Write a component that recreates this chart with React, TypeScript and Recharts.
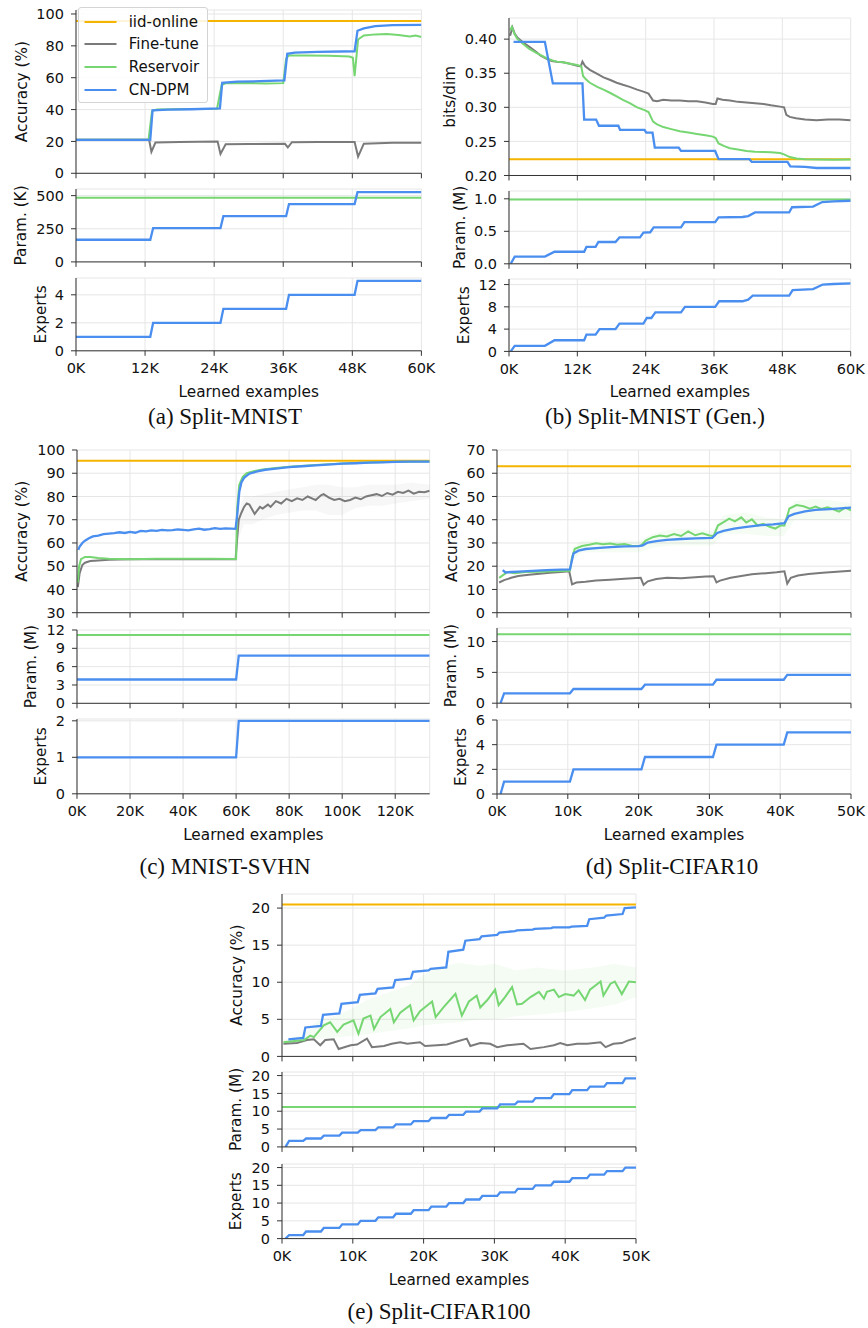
import React from "react"
import { Area, CartesianGrid, ComposedChart, Legend, Line, XAxis, YAxis } from "recharts"

type P = [number, number]
type R = [number, number, number]

const FONT = '"DejaVu Sans", Verdana, sans-serif'
const C_IID = "#f5b400"
const C_FT = "#7a7a7a"
const C_RES = "#76d672"
const C_DPM = "#4a8eef"

const LEGEND_NAMES = ["iid-online", "Fine-tune", "Reservoir", "CN-DPM"]
const LEGEND_COLORS = [C_IID, C_FT, C_RES, C_DPM]

// ---- (a) Split-MNIST ----
const A_X_TICKS = [0, 12, 24, 36, 48, 60]
const A_ACC_IID: P[] = [[0, 95.6], [60, 95.6]]
const A_ACC_FT: P[] = [[0, 21], [12.7, 21], [13.1, 13.5], [13.8, 19.3], [18, 19.6], [24.6, 20], [25.1, 12.2], [26, 18.2], [30, 18.4], [36.3, 18.5], [36.8, 16.2], [37.5, 19.5], [42, 19.6], [48.4, 19.7], [49.0, 10.5], [50, 18.6], [55, 19.1], [60, 19.2]]
const A_ACC_RES: P[] = [[0, 21], [12.6, 21], [13.2, 39], [14, 40], [20, 40.3], [24.5, 40.5], [25.3, 55.5], [26, 56.5], [30, 56.7], [33, 56.3], [36, 56.6], [36.5, 72], [37, 74], [40, 74], [44, 73.8], [47.5, 73.3], [48.1, 72.5], [48.4, 61], [49, 84], [50, 86.5], [52, 87.2], [54, 87.4], [56, 86.8], [58, 85.8], [59, 86.5], [60, 85.5]]
const A_ACC_DPM: P[] = [[0, 21], [12.9, 21], [13.3, 39.5], [16, 40], [20, 40.2], [25, 40.7], [25.4, 56.8], [28, 57.5], [32, 57.8], [36.2, 58.3], [36.7, 75], [38, 75.8], [42, 76.2], [48.4, 76.6], [48.9, 89.5], [50, 91], [52, 92.4], [55, 93], [60, 93.2]]
const A_PAR_RES: P[] = [[0, 484], [60, 484]]
const A_PAR_DPM: P[] = [[0, 167], [12.9, 167], [13.4, 255], [25.1, 255], [25.6, 345], [36.5, 345], [37, 436], [48.4, 436], [48.9, 526], [60, 526]]
const A_EXP_DPM: P[] = [[0, 1], [12.9, 1], [13.4, 2], [25.1, 2], [25.6, 3], [36.5, 3], [37, 4], [48.4, 4], [48.9, 5], [60, 5]]

// ---- (b) Split-MNIST (Gen.) ----
const B_X_TICKS = [0, 12, 24, 36, 48, 60]
const B_ACC_IID: P[] = [[0, 0.224], [60, 0.224]]
const B_ACC_FT: P[] = [[0.2, 0.405], [0.6, 0.417], [1.0, 0.408], [1.5, 0.402], [2.5, 0.395], [3.7, 0.388], [4.8, 0.381], [5.5, 0.376], [6.6, 0.371], [7.5, 0.368], [8.4, 0.367], [9.5, 0.366], [10.7, 0.364], [12.0, 0.361], [12.6, 0.36], [12.9, 0.367], [13.4, 0.36], [14.2, 0.355], [15.5, 0.349], [16.6, 0.344], [17.8, 0.34], [18.9, 0.336], [20, 0.333], [21.2, 0.33], [22.5, 0.326], [23.6, 0.323], [24.5, 0.32], [25.3, 0.31], [26, 0.309], [27.1, 0.311], [28.5, 0.31], [30, 0.31], [31.5, 0.309], [33, 0.309], [34.5, 0.307], [35.8, 0.305], [36.3, 0.305], [36.6, 0.313], [37.5, 0.311], [38.8, 0.31], [40.2, 0.308], [41.7, 0.307], [43.2, 0.306], [44.7, 0.305], [46, 0.303], [47.6, 0.301], [48.3, 0.3], [48.7, 0.289], [49.3, 0.286], [50.4, 0.284], [52, 0.282], [54, 0.281], [56, 0.282], [58, 0.282], [60, 0.281]]
const B_ACC_RES: P[] = [[0.2, 0.413], [0.5, 0.418], [1.0, 0.407], [1.5, 0.4], [2.5, 0.393], [3.5, 0.386], [4.8, 0.38], [5.5, 0.377], [6.6, 0.372], [7.5, 0.369], [8.4, 0.367], [9.5, 0.366], [10.7, 0.364], [12.0, 0.362], [12.7, 0.36], [13.0, 0.346], [13.5, 0.341], [14.2, 0.336], [15.5, 0.33], [16.6, 0.326], [17.8, 0.321], [18.9, 0.316], [20, 0.311], [21.2, 0.306], [22.5, 0.3], [23.8, 0.296], [24.5, 0.293], [25.3, 0.279], [26, 0.275], [27.1, 0.271], [28.5, 0.268], [30, 0.265], [31.5, 0.263], [33, 0.261], [34.5, 0.259], [35.8, 0.257], [36.3, 0.255], [36.8, 0.247], [37.8, 0.243], [38.8, 0.24], [40.2, 0.238], [41.7, 0.236], [43.2, 0.235], [44.7, 0.2345], [46, 0.234], [47.6, 0.233], [48.3, 0.231], [49.3, 0.227], [50.5, 0.225], [52, 0.224], [54, 0.2235], [57, 0.223], [60, 0.2235]]
const B_ACC_DPM: P[] = [[0.8, 0.396], [6.3, 0.396], [7.7, 0.335], [12.9, 0.335], [13.2, 0.282], [15.3, 0.282], [15.8, 0.273], [19.2, 0.273], [19.5, 0.267], [23.8, 0.267], [24.1, 0.263], [25.2, 0.263], [25.6, 0.241], [29.8, 0.241], [30.2, 0.236], [36.2, 0.236], [36.8, 0.224], [42.2, 0.224], [42.6, 0.22], [48.9, 0.22], [49.4, 0.2135], [52, 0.2125], [54, 0.211], [60, 0.211]]
const B_PAR_RES: P[] = [[0, 0.99], [60, 0.99]]
const B_PAR_DPM: P[] = [[0.3, 0], [1.0, 0.11], [6.3, 0.11], [8.0, 0.185], [13.2, 0.185], [13.6, 0.26], [15.2, 0.26], [15.7, 0.335], [18.7, 0.335], [19.4, 0.405], [23.0, 0.405], [23.6, 0.48], [24.8, 0.485], [25.4, 0.56], [30.2, 0.56], [30.8, 0.64], [36.2, 0.64], [36.8, 0.715], [41.0, 0.72], [42.0, 0.735], [43.2, 0.79], [49.2, 0.79], [49.7, 0.87], [53.4, 0.88], [55.0, 0.95], [57, 0.96], [60, 0.97]]
const B_EXP_DPM: P[] = [[0.3, 0], [1.0, 1], [6.3, 1], [8.0, 2], [13.2, 2], [13.6, 3], [15.2, 3], [15.9, 4], [18.7, 4], [19.4, 5], [23.6, 5], [24.2, 6], [25.0, 6], [25.7, 7], [30.2, 7], [30.9, 8], [36.2, 8], [36.9, 9], [41.0, 9], [42.0, 9.3], [42.8, 10], [49.2, 10], [49.8, 11], [53.4, 11.2], [55.1, 12], [57, 12.1], [60, 12.2]]

// ---- (c) MNIST-SVHN ----
const C_X_TICKS = [0, 20, 40, 60, 80, 100, 120]
const C_ACC_IID: P[] = [[0, 95.4], [133, 95.4]]
const C_ACC_FT: P[] = [[0.3, 41], [1, 47], [2, 50.5], [3, 51.5], [5, 52.2], [8, 52.5], [12, 52.8], [20, 53], [30, 53], [40, 53], [50, 53], [59.8, 53], [60.4, 62], [61, 70], [62, 73], [63, 75.5], [64, 77], [65, 76.5], [66, 74.5], [67, 72.5], [68, 74], [69, 75.5], [70, 74.8], [72, 76.5], [73, 75.5], [75, 78], [77, 77], [79, 79], [81, 78], [83, 79.2], [85, 78.5], [87, 80], [89, 79], [90, 78.5], [92, 80.5], [93, 81], [95, 79.5], [97, 78.5], [99, 79], [101, 78], [103, 78.5], [105, 79.5], [107, 78.8], [109, 80], [111, 80.5], [113, 81], [115, 80.2], [117, 81.5], [119, 80.8], [121, 82], [123, 81.5], [125, 82.5], [127, 81.2], [129, 82], [131, 81.8], [133, 82.5]]
const C_FT_BAND: R[] = [[60.3, 53, 62], [61, 62, 74], [63, 68, 80], [66, 68, 80], [70, 70, 81], [75, 72, 82], [80, 73, 83], [85, 74, 84], [90, 74, 85], [95, 72, 85], [100, 72, 84], [105, 75, 84], [110, 76, 85], [115, 76, 85], [120, 77, 85], [126, 78, 86], [133, 79, 85]]
const C_ACC_RES: P[] = [[0.3, 43], [0.8, 50], [1.5, 53], [3, 54], [5, 54], [8, 53.5], [12, 53.2], [20, 53], [30, 53.2], [40, 53.2], [50, 53.2], [60, 53.1], [60.4, 75], [61.2, 85], [62.5, 88.5], [64, 90], [67, 91], [70, 91.6], [75, 92.3], [80, 92.8], [90, 93.6], [100, 94.2], [110, 94.6], [120, 94.9], [133, 95]]
const C_ACC_DPM: P[] = [[0.5, 57], [1, 58.5], [2, 60], [3, 61], [4.5, 62], [6, 62.8], [8, 63.2], [10, 63.8], [12, 64], [14, 64.2], [16, 64.6], [18, 64.3], [20, 64.8], [22, 64.4], [24, 65.2], [26, 65], [28, 65.4], [30, 65.2], [32, 65.6], [34, 65.4], [36, 65.5], [38, 65.8], [40, 65.6], [42, 65.4], [44, 65.8], [46, 66.2], [48, 65.7], [50, 66], [52, 66.4], [54, 66.1], [56, 66.3], [58, 66.2], [59.8, 66.1], [60.5, 73], [61.2, 82], [62, 86], [63, 88], [65, 89.8], [68, 90.8], [71, 91.5], [75, 92], [80, 92.6], [85, 93], [90, 93.4], [96, 93.8], [100, 94.1], [105, 94.3], [110, 94.6], [115, 94.7], [120, 94.9], [125, 95], [133, 95]]
const C_PAR_RES: P[] = [[0, 11.2], [133, 11.2]]
const C_PAR_DPM: P[] = [[0, 3.9], [60, 3.9], [61, 7.8], [133, 7.8]]
const C_EXP_DPM: P[] = [[0, 1], [60, 1], [61, 2], [133, 2]]

// ---- (d) Split-CIFAR10 ----
const D_X_TICKS = [0, 10, 20, 30, 40, 50]
const D_ACC_IID: P[] = [[0, 63], [50, 63]]
const D_ACC_FT: P[] = [[0.3, 13], [1, 14], [2, 15], [3, 15.8], [4.5, 16.3], [6, 16.8], [7.5, 17.2], [9, 17.5], [10.2, 17.8], [10.6, 12.2], [11.2, 13], [12.5, 13.3], [14, 13.8], [16, 14.2], [18, 14.6], [20.3, 15], [20.7, 12], [21.3, 13.5], [22.5, 14.5], [24, 15], [26, 14.8], [28, 15.2], [29.5, 15.6], [30.6, 15.7], [31, 13], [31.5, 13.8], [33, 15], [34.5, 15.8], [36, 16.5], [38, 17], [39.5, 17.4], [40.6, 17.8], [41, 12.5], [41.5, 15], [42.5, 16], [44, 16.6], [46, 17.2], [48, 17.6], [50, 18]]
const D_ACC_RES: P[] = [[0.3, 15], [1, 16.5], [1.5, 17.5], [2.5, 17], [4, 17.5], [6, 17.6], [8, 17.8], [10.3, 18], [10.6, 24], [11, 27.5], [12, 28.7], [13, 29.2], [14, 29.9], [15, 29.5], [16, 29.8], [17, 29.2], [18, 29.6], [19, 28.8], [20.3, 28.7], [21, 31], [22, 32.5], [23, 33.2], [24, 32.8], [25, 33.8], [26, 33], [27, 35], [28, 33.3], [29, 34.2], [30, 33.2], [30.6, 33], [31.2, 37.5], [32, 39], [32.8, 40.5], [33.6, 39.3], [34.5, 41], [35.2, 38.8], [36, 40.2], [36.8, 37.5], [37.6, 38.2], [38.5, 37], [39.3, 36.2], [40, 37.5], [40.6, 37.5], [41.3, 44.8], [42.3, 46.3], [43.3, 45.8], [44.2, 44.8], [45, 45.7], [45.8, 44.6], [46.7, 45.3], [47.5, 44.5], [48.3, 43.5], [49.2, 45.2], [50, 44]]
const D_RES_BAND: R[] = [[10.6, 22, 28], [12, 26, 31], [15, 26, 31], [20, 26, 31], [22, 28, 34], [25, 29, 36], [28, 29, 36], [30.5, 29, 35], [32, 34, 42], [35, 34, 43], [38, 33, 41], [40.5, 33, 40], [42, 40, 48], [45, 40, 49], [48, 40, 48], [50, 41, 47]]
const D_ACC_DPM: P[] = [[0.8, 18.3], [1.2, 17.3], [2, 17.5], [3, 17.7], [5, 18], [7, 18.3], [9, 18.5], [10.3, 18.6], [10.8, 25.5], [11.5, 26.7], [12.5, 27.4], [14, 27.8], [16, 28.2], [18, 28.5], [20, 28.6], [20.6, 29], [21.3, 30.2], [22.5, 30.8], [24, 31.3], [26, 31.7], [28, 32], [30.4, 32.2], [31.1, 34.3], [32, 35.2], [33.5, 36.2], [35, 36.8], [37, 37.6], [39, 38], [40.6, 38.5], [41.2, 41.5], [42, 42.5], [43.5, 43.6], [45, 44.2], [47, 44.6], [50, 45.2]]
const D_PAR_RES: P[] = [[0, 11.2], [50, 11.2]]
const D_PAR_DPM: P[] = [[0.5, 0], [1, 1.6], [10.3, 1.6], [10.8, 2.3], [20.4, 2.3], [20.9, 3.0], [30.5, 3.0], [31, 3.8], [40.5, 3.8], [41, 4.6], [50, 4.6]]
const D_EXP_DPM: P[] = [[0.5, 0], [1, 1], [10.3, 1], [10.8, 2], [20.4, 2], [20.9, 3], [30.5, 3], [31, 4], [40.5, 4], [41, 5], [50, 5]]

// ---- (e) Split-CIFAR100 ----
const E_X_TICKS = [0, 10, 20, 30, 40, 50]
const E_ACC_IID: P[] = [[0, 20.5], [50, 20.5]]
const E_ACC_FT: P[] = [[0.2, 1.7], [2.1, 1.8], [3.5, 2.2], [4.5, 2.3], [5.4, 1.5], [6.1, 2.2], [7.3, 2.3], [8, 1.0], [9.7, 1.5], [10.6, 1.6], [12, 2.4], [12.7, 1.25], [14.4, 1.4], [15.5, 1.7], [16.7, 1.9], [17.7, 1.7], [19.5, 1.9], [20.2, 1.4], [21.9, 1.5], [23.3, 1.6], [24.7, 2.0], [26.1, 2.4], [26.6, 1.4], [28, 1.8], [29.4, 1.7], [30.4, 1.25], [31.8, 1.5], [33, 1.6], [34.1, 1.7], [35.1, 1.0], [37, 1.25], [38.4, 1.5], [39.3, 1.8], [40.3, 1.5], [41.7, 1.7], [43.1, 1.7], [45, 1.9], [45.7, 1.25], [46.8, 1.7], [48, 1.8], [48.7, 2.1], [50, 2.5]]
const E_ACC_RES: P[] = [[0.2, 1.9], [3.1, 2.2], [4, 2.8], [4.5, 2.6], [5.9, 4.2], [6.8, 4.6], [7.8, 3.3], [8.7, 4.3], [10.1, 4.85], [10.8, 3.05], [11.5, 5.1], [12.5, 5.5], [13, 3.7], [13.9, 5.3], [15.3, 6.4], [15.8, 4.6], [16.7, 5.9], [18.1, 6.9], [18.6, 4.85], [19.5, 6.1], [21.2, 7.4], [21.7, 5.3], [22.8, 6.6], [24.5, 8.45], [25.4, 5.5], [26.4, 7.4], [27.5, 8.2], [28, 6.6], [29, 7.6], [30.1, 9], [30.6, 6.9], [31.5, 8.0], [32.5, 9.35], [33.2, 7.0], [33.9, 7.1], [35.1, 8], [36.3, 8.7], [37, 7.8], [37.4, 8.7], [38.4, 9], [39.1, 8], [40, 8.4], [41.2, 8.2], [41.9, 8.9], [42.8, 7.6], [43.5, 9], [45, 10.1], [45.4, 8.2], [46.4, 9.8], [47, 10.1], [48, 8.4], [49, 10.1], [50, 10]]
const E_RES_BAND: R[] = [[0.2, 1.6, 2.2], [3, 1.8, 2.9], [5, 2.4, 4.8], [8, 2.6, 5.6], [10, 2.8, 6.5], [12, 3, 7.6], [15, 3.4, 8.6], [18, 3.8, 9.6], [20, 4.2, 11], [22, 4.4, 12], [25, 4.6, 12.6], [28, 5, 12.2], [30, 5, 12.5], [33, 5.4, 11.6], [36, 5.6, 12], [40, 6, 11.6], [44, 6.5, 12], [47, 7, 12.5], [50, 8, 12]]
const E_ACC_DPM: P[] = [[0.9, 2.3], [3.0, 2.5], [3.3, 3.9], [5.5, 4.1], [5.8, 5.6], [8.1, 5.8], [8.4, 7.1], [10.7, 7.3], [11.0, 8.3], [13.2, 8.5], [13.5, 9.1], [15.7, 9.3], [16.0, 10.3], [18.2, 10.5], [18.5, 11.4], [20.7, 11.6], [21.0, 11.8], [23.2, 12.0], [23.5, 14.1], [25.6, 14.4], [25.9, 15.6], [27.9, 15.8], [28.2, 16.2], [30.4, 16.4], [30.7, 16.7], [32.9, 16.9], [33.2, 17.0], [35.4, 17.1], [35.7, 17.2], [38.0, 17.3], [38.3, 17.4], [40.6, 17.4], [40.9, 17.5], [43.1, 17.6], [43.4, 18.5], [45.5, 18.7], [45.8, 19.0], [48.1, 19.2], [48.4, 20.0], [50, 20.1]]
const E_PAR_RES: P[] = [[0, 11.2], [50, 11.2]]
const E_PAR_DPM: P[] = [[0.5, 0], [1.0, 1.7], [3.0, 1.7], [3.4, 2.35], [5.5, 2.35], [5.9, 3.15], [8.1, 3.15], [8.5, 4.0], [10.7, 4.0], [11.1, 4.7], [13.2, 4.7], [13.6, 5.5], [15.7, 5.5], [16.1, 6.3], [18.2, 6.3], [18.6, 7.2], [20.7, 7.2], [21.1, 8.1], [23.2, 8.1], [23.6, 9.0], [25.6, 9.0], [26.0, 9.9], [27.9, 9.9], [28.3, 10.8], [30.4, 10.8], [30.8, 11.9], [32.9, 11.9], [33.3, 12.7], [35.4, 12.7], [35.8, 13.7], [38.0, 13.7], [38.4, 14.8], [40.6, 14.8], [41.0, 15.9], [43.1, 15.9], [43.5, 16.9], [45.5, 16.9], [45.9, 17.9], [48.1, 17.9], [48.5, 19.2], [50, 19.2]]
const E_EXP_DPM: P[] = [[0.5, 0], [1.0, 1], [3.0, 1], [3.4, 2], [5.5, 2], [5.9, 3], [8.1, 3], [8.5, 4], [10.7, 4], [11.1, 5], [13.2, 5], [13.6, 6], [15.7, 6], [16.1, 7], [18.2, 7], [18.6, 8], [20.7, 8], [21.1, 9], [23.2, 9], [23.6, 10], [25.6, 10], [26.0, 11], [27.9, 11], [28.3, 12], [30.4, 12], [30.8, 13], [32.9, 13], [33.3, 14], [35.4, 14], [35.8, 15], [38.0, 15], [38.4, 16], [40.6, 16], [41.0, 17], [43.1, 17], [43.5, 18], [45.5, 18], [45.9, 19], [48.1, 19], [48.5, 20], [50, 20]]

type Series = { data: P[]; color: string; width?: number }
type Band = { data: R[]; color: string }

const YW = 70
const MT = 12
const MR = 26

const LegendBox = () => (
  <div
    style={{
      width: 130,
      height: 96,
      boxSizing: "border-box",
      border: "1px solid #d4d4d4",
      borderRadius: 3,
      background: "rgba(255,255,255,0.85)",
      fontFamily: FONT,
      fontSize: 15,
      color: "#111",
      paddingTop: 2,
    }}
  >
    {LEGEND_NAMES.map((name, i) => (
      <div key={name} style={{ display: "flex", alignItems: "center", height: 22.7 }}>
        <svg width={50} height={6} style={{ flex: "none" }}>
          <line x1={5.5} x2={37.5} y1={3} y2={3} stroke={LEGEND_COLORS[i]} strokeWidth={2} />
        </svg>
        <span>{name}</span>
      </div>
    ))}
  </div>
)

function Sub(props: {
  x: number
  y: number
  w: number
  h: number
  xDomain: [number, number]
  xTicks: number[]
  yDomain: [number, number]
  yTicks: number[]
  yFmt?: (v: number) => string
  yLabel: string
  labelX: number
  series: Series[]
  bands?: Band[]
  bottom?: boolean
  legend?: boolean
}) {
  const { x, y, w, h, xDomain, xTicks, yDomain, yTicks, yFmt, yLabel, labelX, series, bands, bottom, legend } = props
  const xh = bottom ? 46 : 8
  const mb = bottom ? 10 : 0
  const left = x - YW
  const top = y - MT
  return (
    <div style={{ position: "absolute", left, top }}>
      <ComposedChart
        width={w + YW + MR}
        height={h + MT + xh + mb}
        margin={{ top: MT, right: MR, bottom: mb, left: 0 }}
        style={{ fontFamily: FONT }}
      >
        <CartesianGrid stroke="#e6e6e6" strokeWidth={1} />
        <XAxis
          type="number"
          dataKey="x"
          domain={xDomain}
          ticks={xTicks}
          interval={0}
          allowDataOverflow
          height={xh}
          stroke="#333"
          tickSize={5}
          tickMargin={7}
          tick={{ fill: "#111", fontSize: 14.5 }}
          tickFormatter={bottom ? (v: number) => `${v}K` : () => ""}
          label={
            bottom
              ? { value: "Learned examples", position: "insideBottom", offset: 0, style: { fontSize: 15.3, fill: "#111" } }
              : undefined
          }
        />
        <YAxis
          type="number"
          domain={yDomain}
          ticks={yTicks}
          interval={0}
          allowDataOverflow
          width={YW}
          stroke="#333"
          tickSize={5}
          tickMargin={7}
          tick={{ fill: "#111", fontSize: 14.5 }}
          tickFormatter={yFmt ?? ((v: number) => String(v))}
          label={{
            value: yLabel,
            angle: -90,
            position: "insideLeft",
            offset: labelX - left,
            style: { textAnchor: "middle", fontSize: 15.3, fill: "#111" },
          }}
        />
        {legend && (
          <Legend
            content={LegendBox}
            layout="horizontal"
            verticalAlign="middle"
            align="center"
            wrapperStyle={{ left: 77.7 - left, top: 7.3 - top, width: 130, height: 96 }}
          />
        )}
        {(bands ?? []).map((b, i) => (
          <Area
            key={`band-${i}`}
            data={b.data.map(([px, lo, hi]) => ({ x: px, r: [lo, hi] }))}
            dataKey="r"
            type="linear"
            stroke="none"
            fill={b.color}
            fillOpacity={0.08}
            legendType="none"
            isAnimationActive={false}
          />
        ))}
        {series.map((s, i) => (
          <Line
            key={i}
            data={s.data.map(([px, py]) => ({ x: px, y: py }))}
            dataKey="y"
            type="linear"
            stroke={s.color}
            strokeWidth={s.width ?? 2}
            dot={false}
            activeDot={false}
            legendType="none"
            isAnimationActive={false}
          />
        ))}
      </ComposedChart>
    </div>
  )
}

const Caption = ({ cx, baseline, text }: { cx: number; baseline: number; text: string }) => (
  <div
    style={{
      position: "absolute",
      left: cx - 200,
      top: baseline - 19.2,
      width: 400,
      textAlign: "center",
      fontFamily: '"Liberation Serif", "Times New Roman", serif',
      fontSize: 23,
      lineHeight: "23px",
      color: "#111",
      whiteSpace: "nowrap",
    }}
  >
    {text}
  </div>
)

const f2 = (v: number) => v.toFixed(2)
const f1 = (v: number) => v.toFixed(1)

export default function App() {
  return (
    <div style={{ position: "absolute", left: 0, top: 0, width: 868, height: 1328, background: "#fff" }}>
      {/* (a) */}
      <Sub x={76.3} y={10} w={345.4} h={163.3} xDomain={[0, 60]} xTicks={A_X_TICKS} yDomain={[0, 102.5]} yTicks={[0, 20, 40, 60, 80, 100]} yLabel="Accuracy (%)" labelX={21.7} legend
        series={[{ data: A_ACC_IID, color: C_IID }, { data: A_ACC_FT, color: C_FT }, { data: A_ACC_RES, color: C_RES }, { data: A_ACC_DPM, color: C_DPM, width: 2.3 }]} />
      <Sub x={76.3} y={189.1} w={345.4} h={72.9} xDomain={[0, 60]} xTicks={A_X_TICKS} yDomain={[0, 550]} yTicks={[0, 250, 500]} yLabel="Param. (K)" labelX={20.8}
        series={[{ data: A_PAR_RES, color: C_RES }, { data: A_PAR_DPM, color: C_DPM, width: 2.3 }]} />
      <Sub x={76.3} y={278.2} w={345.4} h={72.8} xDomain={[0, 60]} xTicks={A_X_TICKS} yDomain={[0, 5.2]} yTicks={[0, 2, 4]} yLabel="Experts" labelX={41} bottom
        series={[{ data: A_EXP_DPM, color: C_DPM, width: 2.3 }]} />
      <Caption cx={225} baseline={424} text="(a) Split-MNIST" />

      {/* (b) */}
      <Sub x={509} y={18.2} w={341.7} h={157.5} xDomain={[0, 60]} xTicks={B_X_TICKS} yDomain={[0.2, 0.431]} yTicks={[0.2, 0.25, 0.3, 0.35, 0.4]} yFmt={f2} yLabel="bits/dim" labelX={449.7}
        series={[{ data: B_ACC_IID, color: C_IID }, { data: B_ACC_FT, color: C_FT }, { data: B_ACC_RES, color: C_RES }, { data: B_ACC_DPM, color: C_DPM, width: 2.3 }]} />
      <Sub x={509} y={191.2} w={341.7} h={72.8} xDomain={[0, 60]} xTicks={B_X_TICKS} yDomain={[0, 1.12]} yTicks={[0, 0.5, 1]} yFmt={f1} yLabel="Param. (M)" labelX={459.5}
        series={[{ data: B_PAR_RES, color: C_RES }, { data: B_PAR_DPM, color: C_DPM, width: 2.3 }]} />
      <Sub x={509} y={279.3} w={341.7} h={72.4} xDomain={[0, 60]} xTicks={B_X_TICKS} yDomain={[0, 13]} yTicks={[0, 4, 8, 12]} yLabel="Experts" labelX={464} bottom
        series={[{ data: B_EXP_DPM, color: C_DPM, width: 2.3 }]} />
      <Caption cx={655} baseline={424} text="(b) Split-MNIST (Gen.)" />

      {/* (c) */}
      <Sub x={77.3} y={450} w={352.7} h={162.7} xDomain={[0, 133]} xTicks={C_X_TICKS} yDomain={[30, 100]} yTicks={[30, 40, 50, 60, 70, 80, 90, 100]} yLabel="Accuracy (%)" labelX={22}
        bands={[{ data: C_FT_BAND, color: "#9a9a9a" }]}
        series={[{ data: C_ACC_IID, color: C_IID }, { data: C_ACC_FT, color: C_FT }, { data: C_ACC_RES, color: C_RES }, { data: C_ACC_DPM, color: C_DPM, width: 2.3 }]} />
      <Sub x={77.3} y={630} w={352.7} h={73.3} xDomain={[0, 133]} xTicks={C_X_TICKS} yDomain={[0, 12]} yTicks={[0, 3, 6, 9, 12]} yLabel="Param. (M)" labelX={31}
        series={[{ data: C_PAR_RES, color: C_RES }, { data: C_PAR_DPM, color: C_DPM, width: 2.3 }]} />
      <Sub x={77.3} y={719.2} w={352.7} h={74.8} xDomain={[0, 133]} xTicks={C_X_TICKS} yDomain={[0, 2.05]} yTicks={[0, 1, 2]} yLabel="Experts" labelX={41} bottom
        series={[{ data: C_EXP_DPM, color: C_DPM, width: 2.3 }]} />
      <Caption cx={225} baseline={874} text="(c) MNIST-SVHN" />

      {/* (d) */}
      <Sub x={496.7} y={450} w={354} h={162.7} xDomain={[0, 50]} xTicks={D_X_TICKS} yDomain={[0, 70]} yTicks={[0, 10, 20, 30, 40, 50, 60, 70]} yLabel="Accuracy (%)" labelX={450.8}
        bands={[{ data: D_RES_BAND, color: C_RES }]}
        series={[{ data: D_ACC_IID, color: C_IID }, { data: D_ACC_FT, color: C_FT }, { data: D_ACC_RES, color: C_RES }, { data: D_ACC_DPM, color: C_DPM, width: 2.3 }]} />
      <Sub x={496.7} y={628.1} w={354} h={75.2} xDomain={[0, 50]} xTicks={D_X_TICKS} yDomain={[0, 12.2]} yTicks={[0, 5, 10]} yLabel="Param. (M)" labelX={450}
        series={[{ data: D_PAR_RES, color: C_RES }, { data: D_PAR_DPM, color: C_DPM, width: 2.3 }]} />
      <Sub x={496.7} y={720} w={354} h={74} xDomain={[0, 50]} xTicks={D_X_TICKS} yDomain={[0, 6]} yTicks={[0, 2, 4, 6]} yLabel="Experts" labelX={460} bottom
        series={[{ data: D_EXP_DPM, color: C_DPM, width: 2.3 }]} />
      <Caption cx={672} baseline={874} text="(d) Split-CIFAR10" />

      {/* (e) */}
      <Sub x={281.7} y={893.6} w={354} h={162.4} xDomain={[0, 50]} xTicks={E_X_TICKS} yDomain={[0, 21.9]} yTicks={[0, 5, 10, 15, 20]} yLabel="Accuracy (%)" labelX={236.5}
        bands={[{ data: E_RES_BAND, color: C_RES }]}
        series={[{ data: E_ACC_IID, color: C_IID }, { data: E_ACC_FT, color: C_FT }, { data: E_ACC_RES, color: C_RES }, { data: E_ACC_DPM, color: C_DPM, width: 2.3 }]} />
      <Sub x={281.7} y={1072.4} w={354} h={74.9} xDomain={[0, 50]} xTicks={E_X_TICKS} yDomain={[0, 21]} yTicks={[0, 5, 10, 15, 20]} yLabel="Param. (M)" labelX={235.5}
        series={[{ data: E_PAR_RES, color: C_RES }, { data: E_PAR_DPM, color: C_DPM, width: 2.3 }]} />
      <Sub x={281.7} y={1163.7} w={354} h={74.6} xDomain={[0, 50]} xTicks={E_X_TICKS} yDomain={[0, 21]} yTicks={[0, 5, 10, 15, 20]} yLabel="Experts" labelX={235.5} bottom
        series={[{ data: E_EXP_DPM, color: C_DPM, width: 2.3 }]} />
      <Caption cx={439} baseline={1319} text="(e) Split-CIFAR100" />
    </div>
  )
}
